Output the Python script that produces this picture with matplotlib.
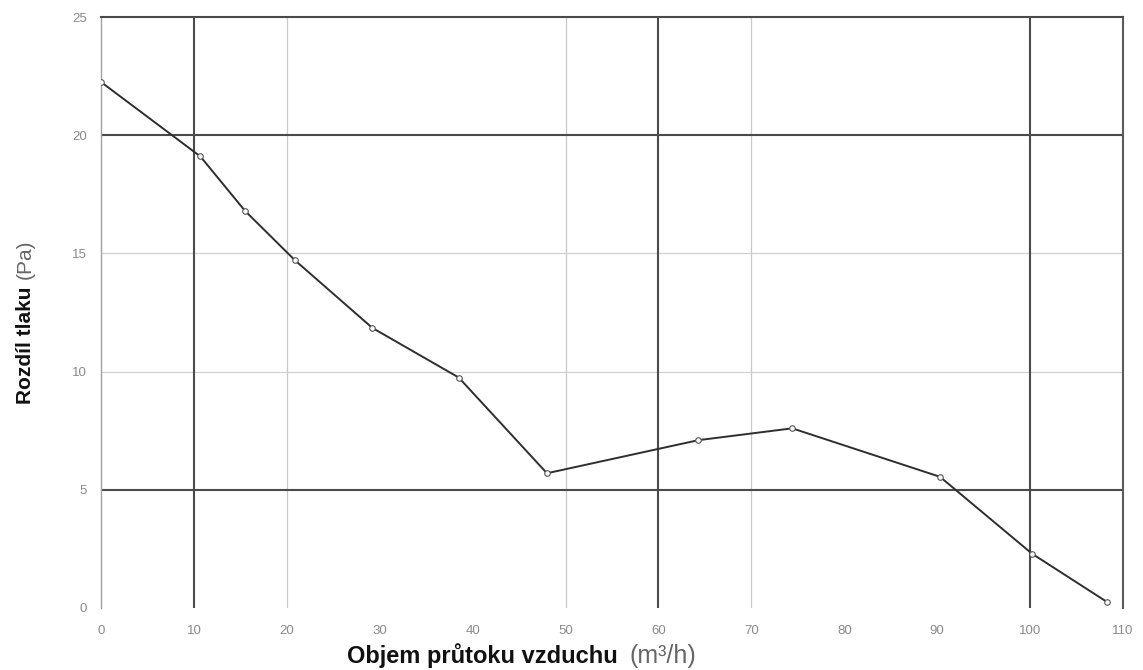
import matplotlib
matplotlib.use("Agg")
import matplotlib.pyplot as plt

# Data
flow = [0, 10.7, 15.5, 20.9, 29.2, 38.5, 48.0, 64.3, 74.4, 90.3, 100.2, 108.3]
pressure = [22.25, 19.1, 16.8, 14.7, 11.85, 9.75, 5.7, 7.1, 7.6, 5.55, 2.3, 0.25]

x_ticks = [0, 10, 20, 30, 40, 50, 60, 70, 80, 90, 100, 110]
x_tick_labels = ["0", "10", "20", "30", "40", "50", "60", "70", "80", "90", "100", "110"]
y_ticks = [0, 5, 10, 15, 20, 25]
y_tick_labels = ["0", "5", "10", "15", "20", "25"]

dark_vlines = [10, 60, 100]
light_vlines = [20, 50, 70]
dark_hlines = [5, 20]
light_hlines = [10, 15]

xlabel_bold = "Objem průtoku vzduchu"
xlabel_unit = "(m³/h)"
ylabel_bold = "Rozdíl tlaku"
ylabel_unit = "(Pa)"

plt.rcParams['font.family'] = ['Liberation Sans', 'DejaVu Sans']

fig = plt.figure(figsize=(11.43, 6.70), dpi=100)
ax = fig.add_axes([101 / 1143, 1 - 608 / 670, (1123 - 101) / 1143, (608 - 17) / 670])
ax.set_xlim(0, 110)
ax.set_ylim(0, 25)

for v in light_vlines:
    ax.axvline(v, color="#c8c8c8", lw=0.9, zorder=1)
for h in light_hlines:
    ax.axhline(h, color="#d0d0d0", lw=0.9, zorder=1)
for v in dark_vlines:
    ax.axvline(v, color="#4a4a4a", lw=1.5, zorder=2)
for h in dark_hlines:
    ax.axhline(h, color="#4a4a4a", lw=1.5, zorder=2)

ax.plot(flow, pressure, color="#2e2e2e", lw=1.4, marker="o", markersize=4,
        markerfacecolor="white", markeredgecolor="#555555", markeredgewidth=0.8, zorder=3)

ax.spines['bottom'].set_visible(False)
ax.spines['left'].set_color("#a0a0a0")
ax.spines['left'].set_linewidth(1.0)
ax.spines['top'].set_color("#4a4a4a")
ax.spines['top'].set_linewidth(1.5)
ax.spines['right'].set_color("#5a5a5a")
ax.spines['right'].set_linewidth(1.5)

ax.set_xticks(x_ticks)
ax.set_xticklabels(x_tick_labels)
ax.set_yticks(y_ticks)
ax.set_yticklabels(y_tick_labels)
ax.tick_params(axis='both', length=0, labelsize=9.5, labelcolor="#8a8a8a")
ax.tick_params(axis='x', pad=12)
ax.tick_params(axis='y', pad=10)

# X label: bold part + normal unit
tx = fig.text(482 / 1143, 2 / 670, xlabel_bold, fontsize=17, fontweight='bold',
              color="#111111", ha='center', va='bottom')
ax.annotate(xlabel_unit, xy=(1, 0), xycoords=tx, xytext=(9, 0),
            textcoords='offset points', fontsize=18, color="#666666",
            ha='left', va='bottom', annotation_clip=False)

# Y label: bold part + normal unit (rotated)
ty = fig.text(0.022, 1 - 345 / 670, ylabel_bold, fontsize=15, fontweight='bold',
              color="#111111", rotation=90, ha='center', va='center')
ax.annotate(ylabel_unit, xy=(0, 1), xycoords=ty, xytext=(0, 5),
            textcoords='offset points', fontsize=15, color="#666666",
            rotation=90, ha='left', va='bottom', annotation_clip=False)

fig.savefig("out.png", dpi=100, facecolor="white")
